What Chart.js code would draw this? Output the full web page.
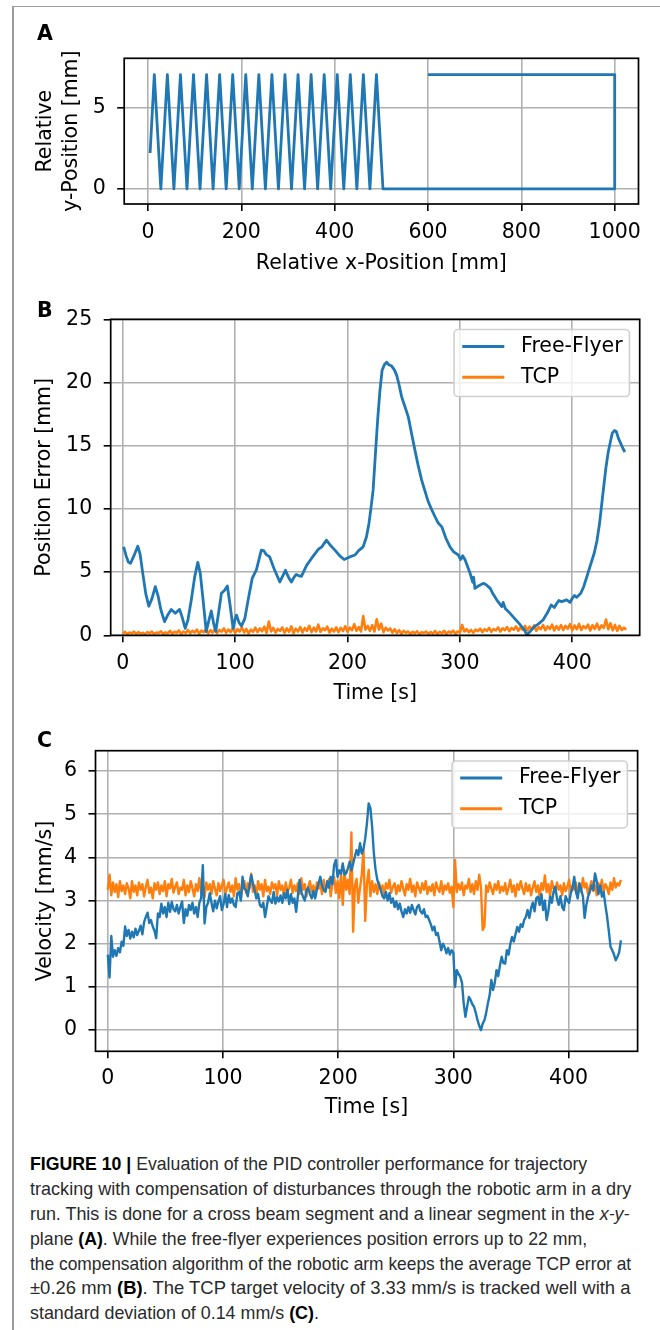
<!DOCTYPE html>
<html><head><meta charset="utf-8">
<script src="https://cdn.jsdelivr.net/npm/chart.js@4.4.1/dist/chart.umd.min.js"></script>
<style>
html,body{margin:0;padding:0;background:#fff;}
body{width:660px;height:1330px;position:relative;overflow:hidden;}
canvas{position:absolute;left:0;}
.rule-top{position:absolute;left:12px;top:5.5px;width:648px;height:1.5px;background:#9c9c9c;}
.rule-left{position:absolute;left:12px;top:5.5px;width:1.5px;height:1330px;background:#9c9c9c;}
.letter{position:absolute;left:37px;font-family:'DejaVu Sans';font-weight:bold;font-size:20.5px;line-height:24px;color:#000;}
#cap{position:absolute;left:29.5px;top:1151.4px;font-family:'Liberation Sans Narrow','Liberation Sans',sans-serif;font-size:18.5px;color:#2a2a2a;}
#cap .ln{height:24.8px;line-height:25px;white-space:nowrap;}
#cap .ln span{display:inline-block;transform-origin:0 50%;}
#cap b{color:#000;}
</style></head>
<body>
<div class="rule-top"></div><div class="rule-left"></div>
<canvas id="cA" width="660" height="290" style="top:0px"></canvas>
<canvas id="cB" width="660" height="420" style="top:290px"></canvas>
<canvas id="cC" width="660" height="412" style="top:710px"></canvas>
<div class="letter" style="top:20.9px">A</div>
<div class="letter" style="top:298px">B</div>
<div class="letter" style="top:727.5px">C</div>
<div id="cap">
<div class="ln"><span><b>FIGURE 10 |</b> Evaluation of the PID controller performance for trajectory</span></div>
<div class="ln"><span>tracking with compensation of disturbances through the robotic arm in a dry</span></div>
<div class="ln"><span>run. This is done for a cross beam segment and a linear segment in the <i>x-y-</i></span></div>
<div class="ln"><span>plane <b>(A)</b>. While the free-flyer experiences position errors up to 22 mm,</span></div>
<div class="ln"><span>the compensation algorithm of the robotic arm keeps the average TCP error at</span></div>
<div class="ln"><span>±0.26 mm <b>(B)</b>. The TCP target velocity of 3.33 mm/s is tracked well with a</span></div>
<div class="ln"><span>standard deviation of 0.14 mm/s <b>(C)</b>.</span></div>
</div>
<script>
// ---------------- DATA ----------------
// Panel A: trajectory (relative x / y position, mm)
const pathX = [4.5,13.5,27.5,41.5,55.5,69.5,83.5,97.5,111.5,125.5,139.5,153.5,167.5,181.5,195.5,209.5,223.5,237.5,251.5,265.5,279.5,293.5,307.5,321.5,335.5,349.5,363.5,377.5,391.5,405.5,419.5,433.5,447.5,461.5,475.5,489.5,503.5,1000,1000,600];
const pathY = [2.2,7,0,7,0,7,0,7,0,7,0,7,0,7,0,7,0,7,0,7,0,7,0,7,0,7,0,7,0,7,0,7,0,7,0,7,0,0,7,7];
const ticksAx = [0,200,400,600,800,1000];
const ticksAy = [0,5];

// Panel B: position error [mm]
const timeFreeB = [0.8,3,5,7,10,13.4,15.5,18,20.5,23.2,26,29,31.5,34,37.2,40,43.2,46.8,50.6,53,55.6,58,61,64,66.8,69,71.5,74.3,77,78.8,81,82.8,85.5,87.8,90.5,93.1,95.5,98.2,100,101.2,103.5,105.7,108.7,112,115.2,119,123.3,125.5,127.5,130.8,134.5,139.8,144.8,147.5,150.1,152.5,154.4,157,159,163.6,168.1,174,177.1,181.3,185,188.8,193,197,202,206.6,209.9,213.9,216.9,219.1,220.8,222.8,224.8,226.8,228.8,230.8,232.8,234.8,236.8,239.3,241.7,243.7,245.7,248.2,250.7,254.1,256.7,260,262.7,266,268.6,271.9,274.6,277.9,280.6,283.9,287.5,291.2,294.5,298.7,300.5,301.5,302.5,304.7,307,309.1,311.4,312.2,313.4,316.4,321,323.4,327,329.3,332.9,337.3,338.5,340.5,343.3,348,353,357.5,359.6,363,366.3,370,374,378,381.3,384,386,388,390.6,395,398,400,402,404,407.5,410,413,416,419.5,422,424.3,427,430,432,435.6,437.5,439.3,441,443,445,446.8];
const errFree = [7.0,6.3,5.8,5.7,6.3,7.05,6.4,4.8,3.3,2.3,2.9,3.85,3.1,2.0,1.08,1.6,2.05,1.74,2.05,1.4,0.55,1.2,2.8,4.6,5.77,4.9,2.8,0.3,1.3,1.93,0.9,0.3,1.9,3.32,3.55,3.9,2.4,0.55,1.3,1.6,1.0,0.74,1.34,3.0,4.5,5.2,6.74,6.7,6.4,6.2,5.3,4.22,5.14,4.6,4.22,4.6,4.82,4.7,4.66,5.53,6.1,6.8,7.0,7.53,7.1,6.74,6.3,6.0,6.2,6.35,6.7,7.0,7.8,8.85,10.0,11.5,14.3,17.0,19.3,20.97,21.4,21.6,21.4,21.3,21.0,20.58,19.9,18.86,18.2,17.28,16.1,14.65,13.5,12.28,11.5,10.56,10.0,9.38,8.9,8.58,7.7,7.0,6.6,6.35,6.0,6.1,6.3,5.96,5.4,4.9,4.2,4.6,3.71,3.9,4.11,4.0,3.71,3.3,2.79,2.27,2.6,2.1,1.87,1.4,0.9,0.4,0.03,0.35,0.69,0.9,1.21,1.8,2.4,2.2,2.5,2.75,2.66,2.8,2.6,2.93,3.15,3.0,3.32,3.8,4.64,5.5,6.49,7.5,8.86,11.0,13.3,14.5,16.0,16.2,16.1,15.6,15.2,14.8,14.5];
const timeB = [0,2,4,6,8,10,12,14,16,18,20,22,24,26,28,30,32,34,36,38,40,42,44,46,48,50,52,54,56,58,60,62,64,66,68,70,72,74,76,78,80,82,84,86,88,90,92,94,96,98,100,102,104,106,108,110,112,114,116,118,120,122,124,126,128,130,132,134,136,138,140,142,144,146,148,150,152,154,156,158,160,162,164,166,168,170,172,174,176,178,180,182,184,186,188,190,192,194,196,198,200,202,204,206,208,210,212,214,216,218,220,222,224,226,228,230,232,234,236,238,240,242,244,246,248,250,252,254,256,258,260,262,264,266,268,270,272,274,276,278,280,282,284,286,288,290,292,294,296,298,300,302,304,306,308,310,312,314,316,318,320,322,324,326,328,330,332,334,336,338,340,342,344,346,348,350,352,354,356,358,360,362,364,366,368,370,372,374,376,378,380,382,384,386,388,390,392,394,396,398,400,402,404,406,408,410,412,414,416,418,420,422,424,426,428,430,432,434,436,438,440,442,444,446,448];
const errTCP = [0.12,0.28,0.08,0.22,0.15,0.30,0.10,0.25,0.14,0.20,
 0.08,0.26,0.15,0.30,0.10,0.22,0.18,0.32,0.09,0.24,
 0.14,0.35,0.12,0.28,0.20,0.38,0.10,0.30,0.18,0.42,
 0.15,0.36,0.22,0.45,0.12,0.38,0.25,0.48,0.16,0.40,
 0.22,0.50,0.18,0.42,0.28,0.55,0.20,0.45,0.25,0.58,
 0.18,0.48,0.30,0.62,0.22,0.50,0.15,0.45,0.28,0.60,
 0.25,0.55,0.32,0.68,0.20,1.08,0.30,0.58,0.22,0.50,
 0.35,0.62,0.20,0.55,0.28,0.70,0.18,0.52,0.30,0.65,
 0.22,0.58,0.35,0.75,0.25,0.60,0.30,0.85,0.28,0.55,
 0.40,0.68,0.22,0.52,0.30,0.62,0.25,0.58,0.35,0.72,
 0.28,0.60,0.40,0.88,0.35,0.65,0.30,1.52,0.45,0.75,
 0.35,0.80,0.30,1.27,0.45,0.92,0.25,0.60,0.38,0.55,
 0.22,0.48,0.18,0.40,0.12,0.35,0.20,0.30,0.10,0.28,
 0.15,0.32,0.08,0.25,0.18,0.30,0.10,0.26,0.14,0.34,
 0.08,0.28,0.16,0.35,0.10,0.30,0.20,0.36,0.12,0.30,
 0.22,0.82,0.30,0.48,0.25,0.42,0.20,0.45,0.32,0.52,
 0.25,0.48,0.35,0.58,0.28,0.50,0.38,0.62,0.30,0.55,
 0.40,0.65,0.32,0.58,0.45,0.70,0.35,0.62,0.42,0.75,
 0.38,0.68,0.45,0.78,0.35,0.65,0.48,0.82,0.40,0.70,
 0.50,0.85,0.38,0.72,0.45,0.80,0.42,0.75,0.52,0.88,
 0.40,0.78,0.48,0.90,0.42,0.72,0.55,0.85,0.38,0.80,
 0.50,0.92,0.45,0.78,0.58,1.25,0.48,0.95,0.40,0.82,
 0.35,0.75,0.42,0.60,0.45];
const ticksBx = [0,100,200,300,400];
const ticksBy = [0,5,10,15,20,25];

// Panel C: velocity [mm/s]
const timeC = [0,1.5,3,4.5,6,7.5,9,10.5,12,13.5,15,16.5,18,19.5,21,22.5,24,25.5,27,28.5,30,31.5,33,34.5,36,37.5,39,40.5,42,43.5,45,46.5,48,49.5,51,52.5,54,55.5,57,58.5,60,61.5,63,64.5,66,67.5,69,70.5,72,73.5,75,76.5,78,79.5,81,82.5,84,85.5,87,88.5,90,91.5,93,94.5,96,97.5,99,100.5,102,103.5,105,106.5,108,109.5,111,112.5,114,115.5,117,118.5,120,121.5,123,124.5,126,127.5,129,130.5,132,133.5,135,136.5,138,139.5,141,142.5,144,145.5,147,148.5,150,151.5,153,154.5,156,157.5,159,160.5,162,163.5,165,166.5,168,169.5,171,172.5,174,175.5,177,178.5,180,181.5,183,184.5,186,187.5,189,190.5,192,193.5,195,196.5,198,199.5,201,202.5,204,205.5,207,208.5,210,211.5,213,214.5,216,217.5,219,220.5,222,223.5,225,226.5,228,229.5,231,232.5,234,235.5,237,238.5,240,241.5,243,244.5,246,247.5,249,250.5,252,253.5,255,256.5,258,259.5,261,262.5,264,265.5,267,268.5,270,271.5,273,274.5,276,277.5,279,280.5,282,283.5,285,286.5,288,289.5,291,292.5,294,295.5,297,298.5,300,301.5,303,304.5,306,307.5,309,310.5,312,313.5,315,316.5,318,319.5,321,322.5,324,325.5,327,328.5,330,331.5,333,334.5,336,337.5,339,340.5,342,343.5,345,346.5,348,349.5,351,352.5,354,355.5,357,358.5,360,361.5,363,364.5,366,367.5,369,370.5,372,373.5,375,376.5,378,379.5,381,382.5,384,385.5,387,388.5,390,391.5,393,394.5,396,397.5,399,400.5,402,403.5,405,406.5,408,409.5,411,412.5,414,415.5,417,418.5,420,421.5,423,424.5,426,427.5,429,430.5,432,433.5,435,436.5,438,439.5,441,442.5,444,445.5];
const velFree = [1.75,1.22,2.18,1.70,1.85,1.72,1.90,1.80,2.05,1.95,
 2.40,2.18,2.32,2.12,2.28,2.15,2.35,2.20,2.30,2.42,
 2.22,2.50,2.62,2.72,2.48,2.55,2.40,2.30,2.13,2.70,
 2.62,2.93,2.70,2.85,2.62,2.95,2.74,2.97,2.80,2.75,
 2.90,2.70,2.85,2.98,2.48,2.80,2.65,2.90,2.78,2.95,
 2.70,2.85,2.62,2.95,3.05,3.82,2.47,2.85,2.95,3.17,
 2.95,2.75,3.00,2.82,2.98,3.10,2.78,2.92,3.15,2.85,
 3.13,2.95,3.05,2.90,2.85,3.17,3.20,3.00,3.55,3.28,
 3.24,3.10,3.35,3.59,3.40,3.24,3.05,3.15,2.90,2.85,
 2.95,2.62,2.85,3.10,3.00,2.95,3.20,2.93,3.08,2.98,
 3.12,2.95,3.17,3.05,3.25,2.92,3.15,2.95,3.05,2.74,
 3.10,3.48,3.20,3.09,3.00,3.24,3.30,3.15,3.05,3.22,
 3.05,3.25,3.40,3.55,3.35,3.24,3.20,3.45,3.30,3.55,
 3.38,3.82,3.94,3.55,3.70,3.62,3.86,3.60,3.63,3.75,
 3.90,3.70,3.85,4.02,4.17,4.05,4.33,4.09,4.20,4.44,
 4.79,5.25,5.14,4.71,4.09,3.71,3.48,3.35,3.24,3.10,
 3.05,3.20,3.00,3.17,2.95,3.05,2.85,2.98,2.80,2.93,
 2.75,2.62,2.80,2.70,2.85,2.72,2.90,2.78,2.68,2.85,
 2.90,2.75,2.70,2.80,2.62,2.65,2.55,2.45,2.31,2.40,
 2.20,2.25,2.05,1.85,2.00,1.92,1.78,1.90,1.75,1.85,
 1.80,1.00,1.39,1.30,1.24,1.10,0.62,0.31,0.55,0.77,
 0.70,0.60,0.54,0.40,0.23,0.10,0.00,0.15,0.23,0.40,
 0.62,0.80,1.16,0.93,1.10,1.39,1.25,1.50,1.70,1.55,
 1.54,1.85,1.75,2.00,2.16,2.05,2.22,2.39,2.28,2.45,
 2.39,2.55,2.62,2.78,2.60,2.82,2.95,2.75,3.05,3.09,
 2.90,3.15,2.78,3.00,2.55,2.75,3.09,2.95,3.20,3.32,
 3.05,2.90,3.10,2.85,2.78,3.10,3.00,2.95,3.17,3.30,
 3.55,3.20,3.05,3.40,3.25,3.10,2.60,2.90,3.09,3.20,
 3.35,3.25,3.63,3.45,3.15,3.35,3.09,3.20,2.90,2.63,
 2.30,1.93,1.85,1.75,1.62,1.70,1.80,2.08];
const velTCP = [3.25,3.60,3.12,3.42,3.20,3.38,3.08,3.45,3.22,3.35,
 3.15,3.40,3.28,3.05,3.45,3.20,3.35,3.12,3.42,3.25,
 3.38,3.10,3.32,3.48,3.18,3.30,3.05,3.40,3.25,3.42,
 3.15,3.35,3.22,3.45,3.10,3.38,3.28,3.50,3.18,3.32,
 3.42,3.15,3.30,3.25,3.48,3.12,3.35,3.20,3.45,3.28,
 3.10,3.38,3.22,3.52,3.18,3.35,3.08,3.42,3.25,3.38,
 3.15,3.45,3.28,3.12,3.40,3.22,3.35,3.48,3.15,3.30,
 3.42,3.20,3.35,3.10,3.52,3.25,3.38,3.05,3.30,3.45,
 3.18,3.40,3.28,3.62,3.20,3.35,3.12,3.45,3.25,3.38,
 3.10,3.48,3.22,3.32,3.15,3.42,3.28,3.38,3.12,3.45,
 3.25,3.35,3.08,3.42,3.20,3.30,3.48,3.18,3.35,3.22,
 3.40,3.15,3.52,3.25,3.38,3.10,3.32,3.45,3.20,3.35,
 3.12,3.42,3.28,3.38,3.15,3.48,3.22,3.35,3.50,3.10,
 3.40,3.55,3.18,3.45,3.05,3.62,2.90,3.70,3.25,3.48,
 3.15,4.58,2.28,3.35,3.50,2.95,3.30,3.60,4.17,2.53,
 3.40,3.71,3.10,3.45,3.20,3.38,3.15,3.42,3.25,3.35,
 3.12,3.40,3.28,3.48,3.18,3.32,3.40,3.15,3.35,3.22,
 3.45,3.28,3.12,3.38,3.25,3.50,3.20,3.35,3.10,3.42,
 3.30,3.18,3.40,3.25,3.45,3.15,3.32,3.22,3.38,3.12,
 3.42,3.28,3.20,3.45,3.15,3.35,3.25,3.40,3.18,3.32,
 2.85,3.94,3.20,3.38,3.25,3.42,3.12,3.35,3.28,3.50,
 3.20,3.38,3.15,3.45,3.25,3.60,3.30,2.32,2.40,3.35,
 3.20,3.42,3.28,3.15,3.38,3.25,3.45,3.18,3.32,3.22,
 3.40,3.15,3.30,3.48,3.20,3.35,3.10,3.38,3.25,3.45,
 3.28,3.15,3.40,3.22,3.36,3.12,3.30,3.45,3.20,3.35,
 3.08,3.40,3.25,3.58,3.20,3.38,3.10,3.45,3.28,3.18,
 3.42,3.25,3.35,3.12,3.40,3.22,3.32,3.48,3.18,3.35,
 3.25,3.42,3.10,3.38,3.20,3.52,3.30,3.40,3.15,3.32,
 3.45,3.22,3.35,3.12,3.40,3.28,3.48,3.20,3.38,3.30,
 3.15,3.42,3.25,3.52,3.30,3.40,3.35,3.48];
const ticksCx = [0,100,200,300,400];
const ticksCy = [0,1,2,3,4,5,6];
const seriesNames = ['Free-Flyer','TCP'];

// ---------------- STYLE / HELPERS ----------------
const BLUE = '#1f77b4', ORANGE = '#ff7f0e', GRID = '#b0b0b0';
const FS = 20.5;
Chart.defaults.font.family = 'DejaVu Sans';
Chart.defaults.font.size = FS;
Chart.defaults.color = '#000';

const pts = (xs, ys) => xs.map((x, i) => ({x: x, y: ys[i]}));
const fixTicks = vals => scale => { scale.ticks = vals.map(v => ({value: v})); };

const framePlugin = {
  id: 'frame',
  afterDraw(chart) {
    const {ctx, chartArea: a} = chart;
    ctx.save();
    ctx.strokeStyle = '#000'; ctx.lineWidth = 1.7;
    ctx.strokeRect(a.left, a.top, a.right - a.left, a.bottom - a.top);
    ctx.restore();
  }
};

const legendPlugin = {
  id: 'mplLegend',
  afterDraw(chart, args, opts) {
    if (!opts || !opts.show) return;
    const {ctx, chartArea: a} = chart;
    const ds = chart.data.datasets;
    ctx.save();
    ctx.font = FS + 'px "DejaVu Sans"';
    const tw = Math.max(...ds.map(d => ctx.measureText(d.label).width));
    const w = 8.2 + 41 + 16.4 + tw + 8.2, h = 67, r = 4;
    const x0 = a.right - 10.25 - w, y0 = a.top + 10.25;
    ctx.beginPath();
    ctx.moveTo(x0 + r, y0); ctx.lineTo(x0 + w - r, y0); ctx.arcTo(x0 + w, y0, x0 + w, y0 + r, r);
    ctx.lineTo(x0 + w, y0 + h - r); ctx.arcTo(x0 + w, y0 + h, x0 + w - r, y0 + h, r);
    ctx.lineTo(x0 + r, y0 + h); ctx.arcTo(x0, y0 + h, x0, y0 + h - r, r);
    ctx.lineTo(x0, y0 + r); ctx.arcTo(x0, y0, x0 + r, y0, r); ctx.closePath();
    ctx.fillStyle = 'rgba(255,255,255,0.8)'; ctx.fill();
    ctx.strokeStyle = '#d0d0d0'; ctx.lineWidth = 1.6; ctx.stroke();
    ds.forEach((d, i) => {
      const y = y0 + 17 + i * 30.7;
      ctx.beginPath(); ctx.moveTo(x0 + 8.2, y); ctx.lineTo(x0 + 50.2, y);
      ctx.strokeStyle = d.borderColor; ctx.lineWidth = 3; ctx.stroke();
      ctx.fillStyle = '#000'; ctx.textBaseline = 'middle'; ctx.textAlign = 'left';
      ctx.fillText(d.label, x0 + 67, y);
    });
    ctx.restore();
  }
};

function axis(o) {
  const isX = o.axis === 'x';
  return {
    type: 'linear', min: o.min, max: o.max,
    afterBuildTicks: fixTicks(o.ticks),
    afterFit: s => { if (isX) s.height = o.size; else s.width = o.size; },
    grid: {color: GRID, lineWidth: 1.6, drawTicks: true, tickLength: 7, tickColor: '#000', tickWidth: 1.6},
    border: {display: false},
    ticks: {padding: o.pad, autoSkip: false, maxRotation: 0, minRotation: 0, callback: v => String(v), font: {size: FS}, color: '#000'},
    title: {display: true, text: o.title, color: '#000', padding: isX ? {top: 0, bottom: o.tpad} : {top: o.tpad, bottom: 0}, font: {size: FS, lineHeight: o.lh || 1.2}}
  };
}

function baseOptions(padTop, padRight, scales, legend) {
  return {
    animation: false, responsive: false, devicePixelRatio: 1,
    layout: {padding: {top: padTop, right: padRight, left: 0, bottom: 0}},
    plugins: {legend: {display: false}, tooltip: {enabled: false}, mplLegend: {show: legend}},
    scales: scales
  };
}

const lineDs = (label, data, color, width) => ({label: label, data: data, borderColor: color, backgroundColor: color,
  borderWidth: width || 2.8, pointRadius: 0, tension: 0, fill: false, borderJoinStyle: 'round'});

// Panel A
new Chart(document.getElementById('cA'), {
  type: 'line',
  data: {datasets: [lineDs('path', pts(pathX, pathY), BLUE)]},
  options: baseOptions(58.3, 21.5, {
    x: axis({axis: 'x', min: -51, max: 1051, ticks: ticksAx, size: 86, pad: 9, title: 'Relative x-Position [mm]', tpad: 13.7}),
    y: axis({axis: 'y', min: -0.92, max: 8.0, ticks: ticksAy, size: 124.2, pad: 11.5, title: ['Relative', 'y-Position [mm]'], tpad: 33, lh: 1.27})
  }, false),
  plugins: [framePlugin, legendPlugin]
});

// Panel B
new Chart(document.getElementById('cB'), {
  type: 'line',
  data: {datasets: [lineDs(seriesNames[0], pts(timeFreeB, errFree), BLUE), lineDs(seriesNames[1], pts(timeB, errTCP), ORANGE, 2.6)]},
  options: baseOptions(29.3, 20.3, {
    x: axis({axis: 'x', min: -10.7, max: 460, ticks: ticksBx, size: 74.7, pad: 9, title: 'Time [s]', tpad: 3.7}),
    y: axis({axis: 'y', min: 0, max: 25, ticks: ticksBy, size: 110.7, pad: 11.5, title: 'Position Error [mm]', tpad: 32.5})
  }, true),
  plugins: [framePlugin, legendPlugin]
});

// Panel C
new Chart(document.getElementById('cC'), {
  type: 'line',
  data: {datasets: [lineDs(seriesNames[0], pts(timeC, velFree), BLUE, 2.4), lineDs(seriesNames[1], pts(timeC, velTCP), ORANGE, 2.4)]},
  options: baseOptions(40.7, 22.4, {
    x: axis({axis: 'x', min: -10.7, max: 460, ticks: ticksCx, size: 70.7, pad: 8, title: 'Time [s]', tpad: 1.7}),
    y: axis({axis: 'y', min: -0.49, max: 6.47, ticks: ticksCy, size: 95.5, pad: 11.5, title: 'Velocity [mm/s]', tpad: 33})
  }, true),
  plugins: [framePlugin, legendPlugin]
});

// caption line widths (the reference is justified; last line keeps the average condensation)
const capWidths = [557.2, 601.2, 599.5, 557.2, 601.2, 600.5, null];
function fitCaption() {
  const spans = Array.from(document.querySelectorAll('#cap .ln span'));
  spans.forEach(s => { s.style.transform = 'none'; });
  const ws = spans.map(s => s.getBoundingClientRect().width);
  const ratios = ws.map((w, i) => capWidths[i] ? capWidths[i] / w : null).filter(r => r);
  const avg = ratios.reduce((a, b) => a + b, 0) / ratios.length;
  spans.forEach((s, i) => {
    const k = capWidths[i] ? capWidths[i] / ws[i] : avg;
    s.style.transform = 'scaleX(' + k + ')';
  });
}
fitCaption();
if (document.fonts && document.fonts.ready) document.fonts.ready.then(fitCaption);
</script>
</body></html>
